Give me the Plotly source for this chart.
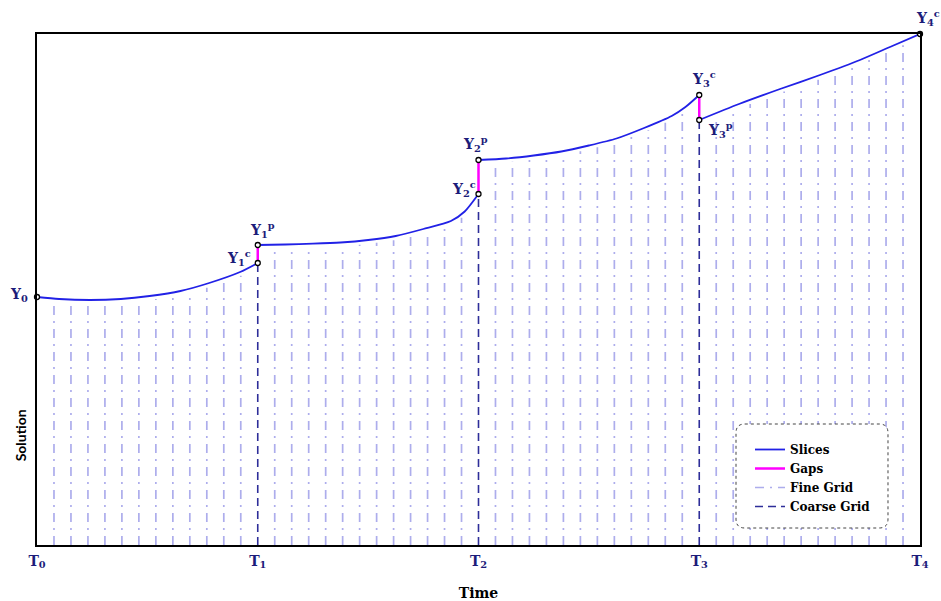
import numpy as np
import plotly.graph_objects as go

# ---------------- data ----------------
coarse_t = [0, 1, 2, 3, 4]
tick_labels = ["T<sub>0</sub>", "T<sub>1</sub>", "T<sub>2</sub>", "T<sub>3</sub>", "T<sub>4</sub>"]

slice0_t = [0.0, 0.10, 0.24, 0.38, 0.51, 0.65, 0.78, 0.92, 1.0]
slice0_y = [2.48, 2.46, 2.45, 2.46, 2.49, 2.54, 2.62, 2.73, 2.82]

slice1_t = [1.0, 1.125, 1.25, 1.375, 1.5, 1.625, 1.75, 1.875, 1.9375, 2.0]
slice1_y = [3.00, 3.005, 3.013, 3.025, 3.05, 3.09, 3.16, 3.24, 3.335, 3.51]

slice2_t = [2.0, 2.125, 2.25, 2.375, 2.5, 2.625, 2.75, 2.875, 2.9375, 3.0]
slice2_y = [3.85, 3.865, 3.895, 3.935, 3.995, 4.065, 4.17, 4.29, 4.38, 4.50]

slice3_t = [3.0, 3.18, 3.366, 3.547, 3.728, 3.864, 4.0]
slice3_y = [4.25, 4.41, 4.56, 4.70, 4.85, 4.98, 5.11]

slices_t = [slice0_t, slice1_t, slice2_t, slice3_t]
slices_y = [slice0_y, slice1_y, slice2_y, slice3_y]

fine_per_coarse = 13

point_names = ["Y<sub>0</sub>", "Y<sub>1</sub><sup>c</sup>", "Y<sub>1</sub><sup>p</sup>",
               "Y<sub>2</sub><sup>c</sup>", "Y<sub>2</sub><sup>p</sup>",
               "Y<sub>3</sub><sup>c</sup>", "Y<sub>3</sub><sup>p</sup>", "Y<sub>4</sub><sup>c</sup>"]
# label offsets in pixels (style)
label_shift = [(-18, 2), (-19, 5), (5, 15), (-15, 5), (-3, 16), (5, 16), (21, -10), (8, 16)]

# ---------------- colors ----------------
C_SLICE = "#2121e6"
C_GAP = "#ff00ff"
C_FINE = "#adadec"
C_COARSE = "#2e2e99"
C_LABEL = "#1c1c7a"
SERIF = "DejaVu Serif"

fig = go.Figure()

# fine grid lines (from bottom up to the solution curve)
fx, fy = [], []
for k in range(len(coarse_t) - 1):
    st = np.array(slices_t[k]); sy = np.array(slices_y[k])
    for j in range(1, fine_per_coarse):
        t = coarse_t[k] + j / fine_per_coarse
        top = float(np.interp(t, st, sy)) - 0.04
        fx += [t, t, None]
        fy += [0, top, None]
fig.add_trace(go.Scatter(x=fx, y=fy, mode="lines", name="<b>Fine Grid</b>",
                         line=dict(color=C_FINE, width=1.7, dash="9px,6px,2px,6px"),
                         legendrank=3, hoverinfo="skip"))

# coarse grid lines
cx, cy = [], []
for k in range(1, len(coarse_t) - 1):
    top = min(slices_y[k - 1][-1], slices_y[k][0])
    cx += [coarse_t[k], coarse_t[k], None]
    cy += [0, top, None]
fig.add_trace(go.Scatter(x=cx, y=cy, mode="lines", name="<b>Coarse Grid</b>",
                         line=dict(color=C_COARSE, width=1.6, dash="8px,5px"),
                         legendrank=4, hoverinfo="skip"))

# gaps
gx, gy = [], []
for k in range(1, len(coarse_t) - 1):
    gx += [coarse_t[k], coarse_t[k], None]
    gy += [slices_y[k - 1][-1], slices_y[k][0], None]
fig.add_trace(go.Scatter(x=gx, y=gy, mode="lines", name="<b>Gaps</b>",
                         line=dict(color=C_GAP, width=2.5), legendrank=2, hoverinfo="skip"))

# slices
for i, (st, sy) in enumerate(zip(slices_t, slices_y)):
    fig.add_trace(go.Scatter(x=st, y=sy, mode="lines", name="<b>Slices</b>",
                             line=dict(color=C_SLICE, width=1.8, shape="spline", smoothing=0.7),
                             legendgroup="slices", showlegend=(i == 0), legendrank=1,
                             cliponaxis=False, hoverinfo="skip"))

# points
px_, py_ = [slices_t[0][0]], [slices_y[0][0]]
for k in range(1, len(slices_t)):
    px_ += [slices_t[k - 1][-1], slices_t[k][0]]
    py_ += [slices_y[k - 1][-1], slices_y[k][0]]
px_.append(slices_t[-1][-1]); py_.append(slices_y[-1][-1])
fig.add_trace(go.Scatter(x=px_, y=py_, mode="markers", showlegend=False, cliponaxis=False,
                         marker=dict(size=5, color="white", line=dict(color="black", width=1.3)),
                         hoverinfo="skip"))

for name, x, y, (dx, dy) in zip(point_names, px_, py_, label_shift):
    fig.add_annotation(x=x, y=y, xref="x", yref="y", text="<b>" + name + "</b>", showarrow=False,
                       xshift=dx, yshift=dy, font=dict(family=SERIF, size=14, color=C_LABEL))

# legend box (rounded, dotted)
x0, x1, y0, y1 = 3.1665, 3.855, 0.17, 1.21
rx, ry = 0.04, 0.09
path = (f"M {x0+rx},{y1} L {x1-rx},{y1} Q {x1},{y1} {x1},{y1-ry} L {x1},{y0+ry} "
        f"Q {x1},{y0} {x1-rx},{y0} L {x0+rx},{y0} Q {x0},{y0} {x0},{y0+ry} "
        f"L {x0},{y1-ry} Q {x0},{y1} {x0+rx},{y1} Z")
fig.add_shape(type="path", path=path, xref="x", yref="y", layer="above",
              line=dict(color="#444444", width=1, dash="dot"), fillcolor="white")

fig.add_annotation(x=-0.019, y=0.215, xref="paper", yref="paper", text="<b>Solution</b>",
                   xanchor="center", yanchor="middle",
                   textangle=-90, showarrow=False, font=dict(family="Lato", size=14, color="black"))

fig.update_layout(
    width=941, height=601,
    margin=dict(l=37, r=21, t=34, b=56, autoexpand=False),
    plot_bgcolor="white", paper_bgcolor="white",
    showlegend=True,
    legend=dict(x=(750 - 37) / 883, y=(545 - 435) / 511, xanchor="left", yanchor="top",
                bgcolor="rgba(0,0,0,0)", borderwidth=0, itemwidth=30,
                font=dict(family=SERIF, size=12, color="black"), tracegroupgap=0),
    xaxis=dict(range=[0, 4], tickvals=coarse_t, automargin=False,
               ticktext=["<b>" + t + "</b>" for t in tick_labels],
               tickfont=dict(family=SERIF, size=14, color=C_LABEL),
               showgrid=False, zeroline=False, showline=True, mirror=True,
               linecolor="black", linewidth=1.5, ticks="", ticklabelstandoff=2,
               title=dict(text="<b>Time</b>", font=dict(family=SERIF, size=14, color="black"),
                          standoff=19)),
    yaxis=dict(range=[0, 5.11], showticklabels=False, showgrid=False, zeroline=False,
               automargin=False,
               showline=True, mirror=True, linecolor="black", linewidth=1.5, ticks=""),
)

fig.write_html("out.html")
